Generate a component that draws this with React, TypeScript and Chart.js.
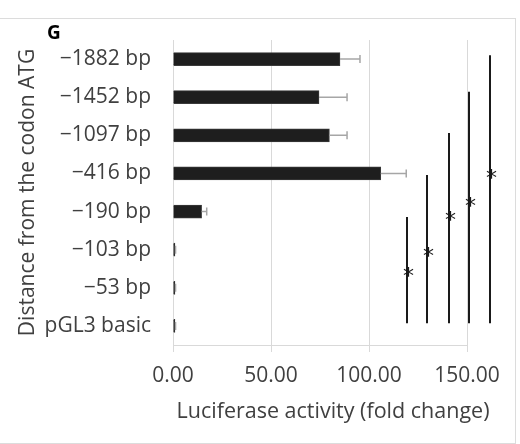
import React, { useEffect, useRef } from "react";
import { Chart, registerables } from "chart.js";
Chart.register(...registerables);

const categories = ["\u22121882 bp", "\u22121452 bp", "\u22121097 bp", "\u2212416 bp", "\u2212190 bp", "\u2212103 bp", "\u221253 bp", "pGL3 basic"];
const activity = [85.2, 74.5, 79.8, 106.0, 14.6, 1.0, 1.0, 1.0];
const activityErr = [10.2, 14.3, 9.0, 13.0, 2.6, 0.3, 0.3, 0.3];
const xTicks = [0, 50, 100, 150];
const sigX = [119.2, 129.8, 140.7, 151.2, 161.7];
const sigTop = [4.14, 3.04, 1.94, 0.86, -0.1];
const sigBottom = [6.93, 6.93, 6.93, 6.93, 6.93];
const sigStar = [5.58, 5.06, 4.12, 3.75, 3.02];
const xTitle = "Luciferase activity (fold change)";
const yTitle = "Distance from the codon ATG";
const panelLabel = "G";

const FONT = "'Open Sans', sans-serif";
const TEXT = "#404040";
const GRID = "#d9d9d9";

export default function App() {
  const ref = useRef<HTMLCanvasElement | null>(null);
  useEffect(() => {
    if (!ref.current) return;
    const errorBars = {
      id: "errorBars",
      afterDatasetsDraw(chart: any) {
        const ctx = chart.ctx;
        const xs = chart.scales.x;
        const meta = chart.getDatasetMeta(0);
        ctx.save();
        ctx.strokeStyle = "#a6a6a6";
        ctx.lineWidth = 1.5;
        meta.data.forEach((bar: any, i: number) => {
          const y = bar.y;
          const x0 = xs.getPixelForValue(activity[i]);
          const x1 = xs.getPixelForValue(activity[i] + activityErr[i]);
          ctx.beginPath();
          ctx.moveTo(x0, y);
          ctx.lineTo(x1, y);
          ctx.moveTo(x1, y - 4);
          ctx.lineTo(x1, y + 4);
          ctx.stroke();
        });
        ctx.restore();
      },
    };
    const sigPlugin = {
      id: "sig",
      afterDraw(chart: any) {
        const ctx = chart.ctx;
        const xs = chart.scales.x;
        const ys = chart.scales.y;
        ctx.save();
        ctx.strokeStyle = "#1a1a1a";
        ctx.lineWidth = 2;
        ctx.fillStyle = "#1a1a1a";
        ctx.font = `22px 'DejaVu Sans', sans-serif`;
        ctx.textAlign = "center";
        ctx.textBaseline = "middle";
        sigX.forEach((v, i) => {
          const x = Math.round(xs.getPixelForValue(v));
          ctx.beginPath();
          ctx.moveTo(x, ys.getPixelForValue(sigTop[i]));
          ctx.lineTo(x, ys.getPixelForValue(sigBottom[i]));
          ctx.stroke();
          ctx.fillText("*", x + 1.5, ys.getPixelForValue(sigStar[i]) + 5);
        });
        // x-axis title and panel label
        ctx.fillStyle = TEXT;
        ctx.font = `21.5px ${FONT}`;
        ctx.fillText(xTitle, 333, 412);
        ctx.fillStyle = "#000";
        ctx.font = `bold 19px ${FONT}`;
        ctx.fillText(panelLabel, 54, 34);
        ctx.restore();
      },
    };
    const chart = new Chart(ref.current, {
      type: "bar",
      data: {
        labels: categories,
        datasets: [
          {
            data: activity,
            backgroundColor: "#1e1e1e",
            borderColor: "#3a3a3a",
            borderWidth: 1,
            barThickness: 13,
          },
        ],
      },
      options: {
        indexAxis: "y",
        animation: false,
        responsive: false,
        layout: { padding: { left: 0, right: 53, top: 40, bottom: 0 } },
        plugins: { legend: { display: false }, tooltip: { enabled: false } },
        scales: {
          x: {
            min: 0,
            max: 150,
            afterFit: (s: any) => { s.height = 99; },
            afterBuildTicks: (s: any) => { s.ticks = xTicks.map((v) => ({ value: v })); },
            grid: { color: GRID, lineWidth: 1, tickLength: 7, drawTicks: true },
            border: { color: GRID },
            ticks: {
              color: TEXT,
              font: { family: FONT, size: 21 },
              padding: 11,
              maxRotation: 0,
              callback: (v: any) => Number(v).toFixed(2),
            },
          },
          y: {
            afterFit: (s: any) => { s.width = 173; },
            grid: { display: false },
            border: { display: true, color: GRID },
            ticks: { color: TEXT, font: { family: FONT, size: 21 }, padding: 14 },
            title: {
              display: true,
              text: yTitle,
              color: TEXT,
              font: { family: FONT, size: 21 },
              padding: { top: 15, bottom: 0 },
            },
          },
        },
      },
      plugins: [errorBars, sigPlugin],
    } as any);
    return () => chart.destroy();
  }, []);
  return (
    <div style={{ position: "absolute", left: 0, top: 0, width: 520, height: 444, background: "#fff", overflow: "hidden" }}>
      <div style={{ position: "absolute", left: -1, top: 18, width: 517, height: 426, boxSizing: "border-box", border: "1px solid #dcdcdc" }} />
      <canvas ref={ref} width={520} height={444} style={{ position: "absolute", left: 0, top: 0 }} />
    </div>
  );
}
